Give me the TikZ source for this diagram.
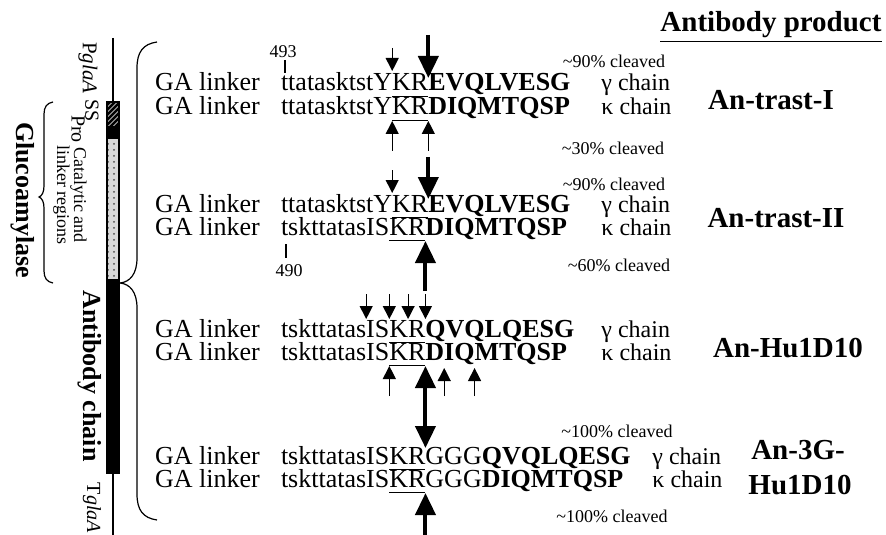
\documentclass[tikz,border=0pt]{standalone}
\usepackage{fontspec}
\setmainfont{Liberation Serif}
\usetikzlibrary{arrows.meta,patterns}
\begin{document}
\begin{tikzpicture}[x=0.5pt,y=-0.5pt,
  sq/.style={font=\fontsize{13}{15}\selectfont, anchor=base west, inner sep=0pt, outer sep=0pt},
  sqb/.style={sq, font=\fontsize{13}{15}\selectfont\bfseries},
  chainlab/.style={font=\fontsize{12}{14}\selectfont, anchor=base west, inner sep=0pt},
  pct/.style={font=\fontsize{9}{11}\selectfont, anchor=base, inner sep=0pt},
  numlab/.style={font=\fontsize{9}{10}\selectfont, anchor=base, inner sep=0pt},
  prod/.style={font=\fontsize{14.5}{17}\selectfont\bfseries, anchor=base, inner sep=0pt},
  rotlab/.style={rotate=-90, inner sep=0pt, align=center},
  ulline/.style={line width=0.6pt},
  bigarr/.style={-{Triangle[length=11pt,width=10pt]}, line width=2pt},
  smallarr/.style={-{Triangle[length=6.5pt,width=6.5pt]}, line width=0.6pt},
  bothbig/.style={{Triangle[length=11pt,width=10pt]}-{Triangle[length=11pt,width=10pt]}, line width=2pt},
  bracel/.style={line width=0.6pt},
]
\useasboundingbox (0,0) rectangle (886,534);
\fill[white] (0,0) rectangle (886,534);

% ---------- construct bar ----------
\draw[line width=0.6pt] (113,38) -- (113,545);
\filldraw[fill=white, line width=0.6pt] (107,102) rectangle (119,127);
\begin{scope}
  \clip (107,102) rectangle (119,127);
  \foreach \i in {0,...,9} \draw[line width=1.3pt] (100,{100+5*\i+7}) -- (126,{100+5*\i-19});
\end{scope}
\draw[line width=0.6pt] (107,102) rectangle (119,127);
\filldraw[line width=0.6pt] (107,127) rectangle (119,138);
\filldraw[fill=black!15, line width=0.6pt] (107,138) rectangle (119,280);
\fill[pattern=dots, pattern color=black!70] (107,138) rectangle (119,280);
\draw[line width=0.6pt] (107,138) rectangle (119,280);
\filldraw[line width=0.6pt] (107,280) rectangle (119,473);

% ---------- rotated labels ----------
\node[rotlab, font=\fontsize{10.5}{12}\selectfont] (pgla) at (88,68) {P\textit{glaA}};
\node[rotlab, font=\fontsize{10}{10}\selectfont] (ss) at (92,111) {SS};
\node[rotlab, font=\fontsize{10}{10}\selectfont] (pro) at (78,129) {Pro};
\node[rotlab, font=\fontsize{9}{8.5}\selectfont] (cat) at (70,195) {Catalytic and\\linker regions};
\node[rotlab, font=\fontsize{13}{15}\selectfont\bfseries] (gluc) at (23,200) {Glucoamylase};
\node[rotlab, font=\fontsize{13}{15}\selectfont\bfseries] (abc) at (90,376) {Antibody chain};
\node[rotlab, font=\fontsize{10}{12}\selectfont] (tgla) at (92,508) {T\textit{glaA}};

% ---------- braces ----------
\draw[bracel] (53,102) .. controls (47,103) and (44,107) .. (44,114) -- (44,186)
  .. controls (44,192) and (42,196) .. (39,197) .. controls (42,198) and (44,202) .. (44,208)
  -- (44,271) .. controls (44,278) and (47,282) .. (53,283);
\draw[bracel] (157,42) .. controls (143,44) and (137,52) .. (137,68) -- (137,258)
  .. controls (137,274) and (130,282) .. (120,283) .. controls (130,284) and (137,292) .. (137,308)
  -- (137,494) .. controls (137,510) and (143,518) .. (157,520);

% ---------- header ----------
\node[prod] (abp) at (771,32) {\underline{Antibody product}};

% ---------- Section 1 ----------
\node[sq] (ga1g) at (155,91) {GA linker};
\node[sq] (p1g) at (281,91) {ttatasktstY};
\node[sq] (k1g) at (p1g.base east) {K};
\node[sq] (r1g) at (k1g.base east) {R};
\node[sqb] (e1g) at (r1g.base east) {EVQLVESG};
\node[chainlab] (c1g) at (601,91) {γ chain};
\node[sq] (ga1k) at (155,115) {GA linker};
\node[sq] (p1k) at (281,115) {ttatasktstY};
\node[sq] (k1k) at (p1k.base east) {K};
\node[sq] (r1k) at (k1k.base east) {R};
\node[sqb] (e1k) at (r1k.base east) {DIQMTQSP};
\node[chainlab] (c1k) at (601,115) {κ chain};
\draw[ulline] ([yshift=-2.75pt]k1g.base west) -- ([yshift=-2.75pt]r1g.base east);
\draw[ulline] ([yshift=-2.75pt]k1k.base west) -- ([yshift=-2.75pt]r1k.base east);
\node[numlab] (n493) at (283,58) {493};
\draw[ulline] (285,60) -- (285,73);
\node[pct] (pc1a) at (614,68) {\textasciitilde 90\% cleaved};
\node[pct] (pc1b) at (613,155) {\textasciitilde 30\% cleaved};
\node[prod] (prod1) at (771,110) {An-trast-I};
\draw[smallarr] (k1g.base west |- 0,48) -- (k1g.base west |- 0,71);
\draw[bigarr] (r1g.base east |- 0,35) -- (r1g.base east |- 0,78);
\draw[smallarr] (k1k.base west |- 0,151) -- (k1k.base west |- 0,121);
\draw[smallarr] (r1k.base east |- 0,151) -- (r1k.base east |- 0,121);

% ---------- Section 2 ----------
\node[sq] (ga2g) at (155,212) {GA linker};
\node[sq] (p2g) at (281,212) {ttatasktstY};
\node[sq] (k2g) at (p2g.base east) {K};
\node[sq] (r2g) at (k2g.base east) {R};
\node[sqb] (e2g) at (r2g.base east) {EVQLVESG};
\node[chainlab] (c2g) at (601,212) {γ chain};
\node[sq] (ga2k) at (155,235) {GA linker};
\node[sq] (p2k) at (281,235) {tskttatasIS};
\node[sq] (k2k) at (p2k.base east) {K};
\node[sq] (r2k) at (k2k.base east) {R};
\node[sqb] (e2k) at (r2k.base east) {DIQMTQSP};
\node[chainlab] (c2k) at (601,235) {κ chain};
\draw[ulline] ([yshift=-2.75pt]k2g.base west) -- ([yshift=-2.75pt]r2g.base east);
\draw[ulline] ([yshift=-2.75pt]k2k.base west) -- ([yshift=-2.75pt]r2k.base east);
\draw[ulline] (286,244) -- (286,258);
\node[numlab] (n490) at (289,276) {490};
\node[pct] (pc2a) at (614,191) {\textasciitilde 90\% cleaved};
\node[pct] (pc2b) at (619,271) {\textasciitilde 60\% cleaved};
\node[prod] (prod2) at (776,227) {An-trast-II};
\draw[smallarr] (k2g.base west |- 0,170) -- (k2g.base west |- 0,193);
\draw[bigarr] (r2g.base east |- 0,157) -- (r2g.base east |- 0,199);
\draw[bigarr] (r2k.base east |- 0,291) -- (r2k.base east |- 0,241);

% ---------- Section 3 ----------
\node[sq] (ga3g) at (155,337) {GA linker};
\node[sq] (p3g) at (281,337) {tskttatas};
\node[sq] (i3g) at (p3g.base east) {IS};
\node[sq] (k3g) at (i3g.base east) {K};
\node[sq] (r3g) at (k3g.base east) {R};
\node[sqb] (e3g) at (r3g.base east) {QVQLQESG};
\node[chainlab] (c3g) at (601,337) {γ chain};
\node[sq] (ga3k) at (155,360) {GA linker};
\node[sq] (p3k) at (281,360) {tskttatasIS};
\node[sq] (k3k) at (p3k.base east) {K};
\node[sq] (r3k) at (k3k.base east) {R};
\node[sqb] (d3k) at (r3k.base east) {D};
\node[sqb] (iq3k) at (d3k.base east) {IQ};
\node[sqb] (m3k) at (iq3k.base east) {MTQSP};
\node[chainlab] (c3k) at (601,360) {κ chain};
\draw[ulline] ([yshift=-2.75pt]k3g.base west) -- ([yshift=-2.75pt]r3g.base east);
\draw[ulline] ([yshift=-2.75pt]k3k.base west) -- ([yshift=-2.75pt]r3k.base east);
\node[prod] (prod3) at (788,357) {An-Hu1D10};
\foreach \a/\b in {i3g/west, k3g/west, r3g/west, r3g/east}
  \draw[smallarr] (\a.base \b |- 0,294) -- (\a.base \b |- 0,319);
\draw[smallarr] (k3k.base west |- 0,396) -- (k3k.base west |- 0,366);
\draw[smallarr] (d3k.base east |- 0,396) -- (d3k.base east |- 0,368);
\draw[smallarr] (iq3k.base east |- 0,396) -- (iq3k.base east |- 0,368);

% ---------- Section 4 ----------
\node[sq] (ga4g) at (155,464) {GA linker};
\node[sq] (p4g) at (281,464) {tskttatasIS};
\node[sq] (k4g) at (p4g.base east) {K};
\node[sq] (r4g) at (k4g.base east) {R};
\node[sq] (gg4g) at (r4g.base east) {GGG};
\node[sqb] (e4g) at (gg4g.base east) {QVQLQESG};
\node[chainlab] (c4g) at (652,464) {γ chain};
\node[sq] (ga4k) at (155,487) {GA linker};
\node[sq] (p4k) at (281,487) {tskttatasIS};
\node[sq] (k4k) at (p4k.base east) {K};
\node[sq] (r4k) at (k4k.base east) {R};
\node[sq] (gg4k) at (r4k.base east) {GGG};
\node[sqb] (e4k) at (gg4k.base east) {DIQMTQSP};
\node[chainlab] (c4k) at (652,487) {κ chain};
\draw[ulline] ([yshift=-2.75pt]k4g.base west) -- ([yshift=-2.75pt]r4g.base east);
\draw[ulline] ([yshift=-2.75pt]k4k.base west) -- ([yshift=-2.75pt]r4k.base east);
\node[pct] (pc4a) at (617,437) {\textasciitilde 100\% cleaved};
\node[pct] (pc4b) at (612,522) {\textasciitilde 100\% cleaved};
\node[prod] (prod4a) at (798,459) {An-3G-};
\node[prod] (prod4b) at (800,494) {Hu1D10};
\draw[bothbig] (r3k.base east |- 0,366) -- (r4g.base east |- 0,448);
\draw[bigarr] (r4k.base east |- 0,540) -- (r4k.base east |- 0,493);
\end{tikzpicture}
\end{document}
